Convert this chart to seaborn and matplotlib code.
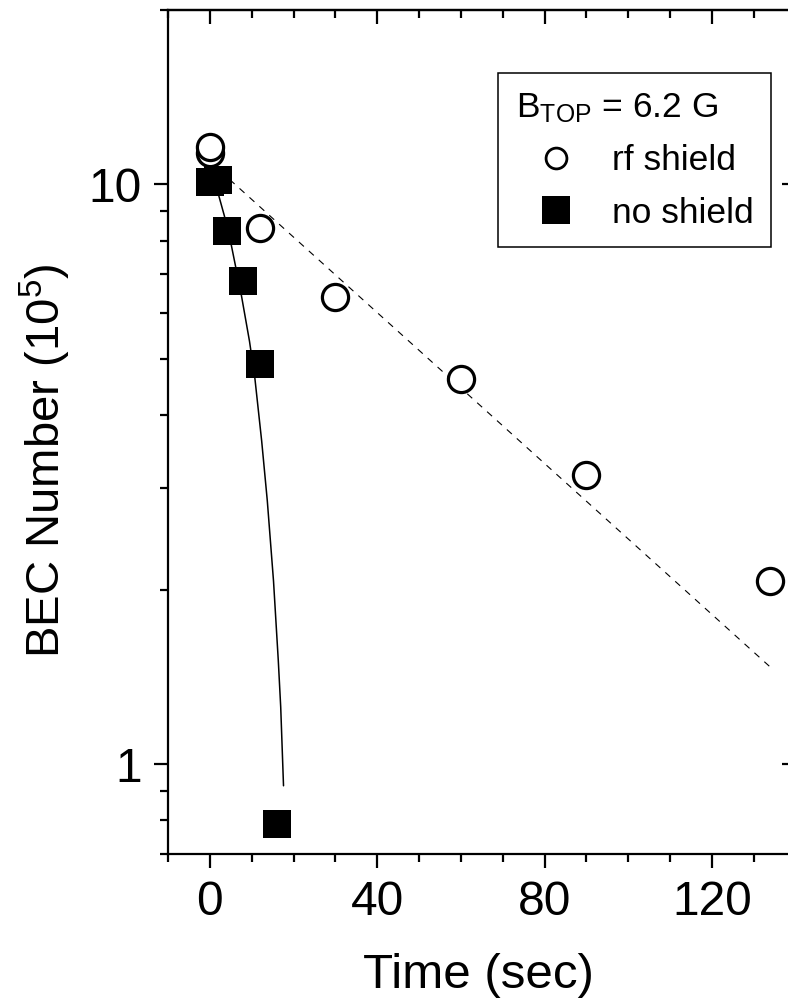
import matplotlib
matplotlib.use("Agg")
import matplotlib.pyplot as plt
import seaborn as sns
from matplotlib.ticker import FixedLocator, MultipleLocator, LogLocator, NullFormatter, FuncFormatter
from matplotlib.lines import Line2D

# ---- data ----
rf_time = [0, 0, 12, 30, 60, 90, 134]
rf_number = [11.35, 11.6, 8.42, 6.40, 4.62, 3.15, 2.07]
ns_time = [0, 2, 4, 8, 12, 16]
ns_number = [10.08, 10.2, 8.32, 6.82, 4.90, 0.79]
rf_fit_time = [0, 134]
rf_fit_number = [10.95, 1.47]
ns_fit_time = [0, 2.06, 3.49, 5.10, 7.49, 9.47, 10.74, 12.39, 13.73, 15.22, 16.36, 16.94, 17.61]
ns_fit_number = [10.54, 9.61, 8.82, 7.88, 6.47, 5.37, 4.65, 3.61, 2.85, 2.07, 1.51, 1.255, 0.918]
x_major_ticks = [0, 40, 80, 120]
y_major_ticks = [1, 10]
legend_title = r"B$_{\mathrm{TOP}}$ = 6.2 G"
legend_labels = ["rf shield", "no shield"]

sns.set_style("ticks")
plt.rcParams["font.family"] = ["Liberation Sans", "DejaVu Sans"]
plt.rcParams["mathtext.fontset"] = "custom"
plt.rcParams["mathtext.rm"] = "Liberation Sans"
plt.rcParams["mathtext.it"] = "Liberation Sans:italic"
plt.rcParams["mathtext.default"] = "regular"
for k in ["text.color", "axes.labelcolor", "xtick.color", "ytick.color", "axes.edgecolor"]:
    plt.rcParams[k] = "black"

fig = plt.figure(figsize=(7.88, 10.07), dpi=100)
ax = fig.add_axes([0.2132, 0.1519, 0.7964, 0.8382])

sns.lineplot(x=rf_fit_time, y=rf_fit_number, ax=ax, color="black", lw=0.8,
             linestyle=(0, (6, 6)), estimator=None, sort=False, zorder=2)
sns.lineplot(x=ns_fit_time, y=ns_fit_number, ax=ax, color="black", lw=1.1,
             estimator=None, sort=False, zorder=2)
sns.scatterplot(x=rf_time, y=rf_number, ax=ax, marker="o", s=355, color="white",
                edgecolor="black", linewidth=2.3, zorder=3)
sns.scatterplot(x=ns_time, y=ns_number, ax=ax, marker="s", s=380, color="black",
                edgecolor="black", linewidth=0, zorder=4)

ax.set_yscale("log")
ax.set_xlim(-10, 140)
ax.set_ylim(0.7, 20)

ax.xaxis.set_major_locator(FixedLocator(x_major_ticks))
ax.xaxis.set_minor_locator(MultipleLocator(10))
ax.yaxis.set_major_locator(FixedLocator(y_major_ticks))
ax.yaxis.set_major_formatter(FuncFormatter(lambda v, p: f"{v:g}"))
ax.yaxis.set_minor_locator(LogLocator(base=10, subs=range(2, 10)))
ax.yaxis.set_minor_formatter(NullFormatter())

for sp in ax.spines.values():
    sp.set_linewidth(1.6)
    sp.set_visible(True)
    sp.set_color("black")
ax.tick_params(which="major", direction="out", length=10, width=1.6, labelsize=34.5, pad=9)
ax.tick_params(which="minor", direction="out", length=5.5, width=1.6)

secx = ax.secondary_xaxis("top")
secx.xaxis.set_major_locator(FixedLocator(x_major_ticks))
secx.xaxis.set_minor_locator(MultipleLocator(10))
secx.tick_params(which="major", direction="in", length=10, width=1.6, labeltop=False)
secx.tick_params(which="minor", direction="in", length=5.5, width=1.6)
secx.spines["top"].set_linewidth(1.6)

secy = ax.secondary_yaxis("right")
secy.yaxis.set_major_locator(FixedLocator(y_major_ticks))
secy.yaxis.set_minor_locator(LogLocator(base=10, subs=range(2, 10)))
secy.yaxis.set_minor_formatter(NullFormatter())
secy.tick_params(which="major", direction="in", length=10, width=1.6, labelright=False)
secy.tick_params(which="minor", direction="in", length=5.5, width=1.6)

ax.set_xlabel("Time (sec)", fontsize=35.5, labelpad=20)
ax.set_ylabel(r"BEC Number (10$^{5}$)", fontsize=34, labelpad=11)
ax.xaxis.label.set_x(0.494)
ax.yaxis.label.set_y(0.466)

handles = [
    Line2D([], [], linestyle="none", marker="o", markersize=15, markerfacecolor="white",
           markeredgecolor="black", markeredgewidth=2.0),
    Line2D([], [], linestyle="none", marker="s", markersize=19.5, markerfacecolor="black",
           markeredgecolor="black", markeredgewidth=0),
]
leg = ax.legend(handles, legend_labels, title=legend_title, loc="upper right",
                bbox_to_anchor=(0.961, 0.925), borderaxespad=0, fontsize=25.5,
                title_fontsize=25.5, alignment="left", handlelength=2.25, handletextpad=0.45,
                labelspacing=0.55, borderpad=0.5, fancybox=False, framealpha=1,
                edgecolor="black")
leg.get_frame().set_linewidth(1.1)

fig.savefig("out.png", dpi=100)
